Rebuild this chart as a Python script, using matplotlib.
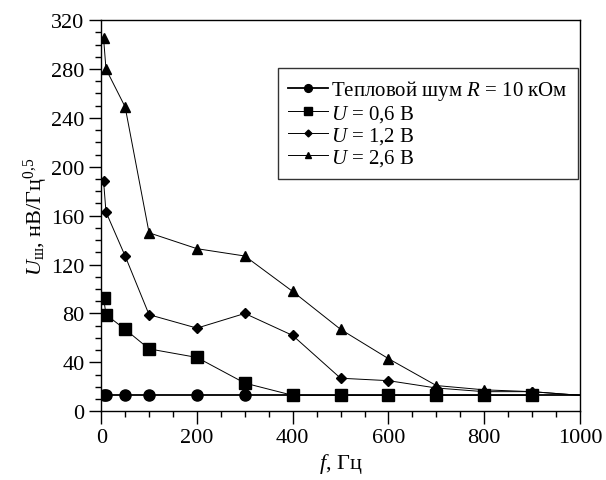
import numpy as np
import matplotlib.pyplot as plt
from matplotlib.ticker import MultipleLocator

plt.rcParams['font.family'] = ['Liberation Serif', 'DejaVu Serif']
plt.rcParams['mathtext.fontset'] = 'custom'
plt.rcParams['mathtext.rm'] = 'Liberation Serif'
plt.rcParams['mathtext.it'] = 'Liberation Serif:italic'

# frequencies, Hz
f = [5, 10, 50, 100, 200, 300, 400, 500, 600, 700, 800, 900, 1000]

# noise, nV/Hz^0.5
thermal = [13, 13, 13, 13, 13, 13, 13, 13, 13, 13, 13, 13, 13]
u06 = [93, 79, 67, 51, 44, 23, 13, 13, 13, 13, 13, 13, 13]
u12 = [188, 163, 127, 79, 68, 80, 62, 27, 25, 19, 16, 16, 13]
u26 = [305, 280, 249, 146, 133, 127, 98, 67, 43, 21, 17.5, 16, 13]

labels = ['Тепловой шум $R$ = 10 кОм', '$U$ = 0,6 В', '$U$ = 1,2 В', '$U$ = 2,6 В']

fig = plt.figure(figsize=(6.06, 4.81), dpi=100)
ax = fig.add_axes([0.167, 0.143, 0.790, 0.813])

ax.plot(f[:-1], thermal[:-1], color='k', lw=1.3, marker='o', ms=8, label=labels[0])
ax.plot(f[:-1], u06[:-1], color='k', lw=0.7, marker='s', ms=9, label=labels[1])
ax.plot(f[:-1], u12[:-1], color='k', lw=0.7, marker='D', ms=5, label=labels[2])
ax.plot(f[:-1], u26[:-1], color='k', lw=0.7, marker='^', ms=7, label=labels[3])
# tails to the edge without markers
ax.plot(f[-2:], thermal[-2:], color='k', lw=1.3)
ax.plot(f[-2:], u12[-2:], color='k', lw=0.7)
ax.plot(f[-2:], u26[-2:], color='k', lw=0.7)

ax.set_xlim(0, 1000)
ax.set_ylim(0, 320)
ax.xaxis.set_major_locator(MultipleLocator(200))
ax.xaxis.set_minor_locator(MultipleLocator(50))
ax.yaxis.set_major_locator(MultipleLocator(40))
ax.yaxis.set_minor_locator(MultipleLocator(10))
ax.tick_params(which='major', direction='out', length=9, width=1, labelsize=16, pad=3)
ax.tick_params(which='minor', direction='out', length=4.5, width=1)
for s in ax.spines.values():
    s.set_linewidth(1)

ax.set_xlabel('$f$, Гц', fontsize=16, labelpad=3)
ax.set_ylabel(r'$U_{\mathrm{ш}}$, нВ/Гц$^{0{,}5}$', fontsize=16, labelpad=1)

leg = ax.legend(loc='upper right', bbox_to_anchor=(0.996, 0.878), fontsize=15,
                frameon=True, fancybox=False, edgecolor='k', handlelength=1.9,
                handletextpad=0.15, borderpad=0.5, labelspacing=0.05, markerscale=0.7,
                borderaxespad=0)
leg.get_frame().set_linewidth(1)

fig.savefig('out.png', dpi=100)
